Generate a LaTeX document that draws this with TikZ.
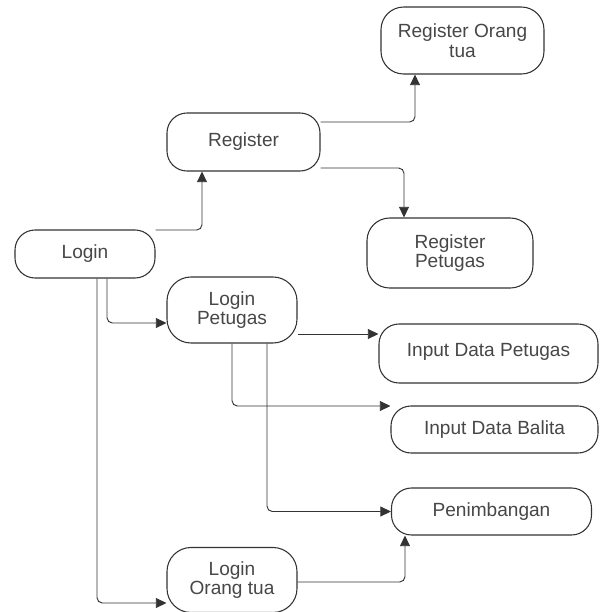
\documentclass[tikz,border=0pt]{standalone}
\usepackage{fontspec}
\setmainfont{Liberation Sans}
\usetikzlibrary{calc,arrows.meta}
\definecolor{edge}{HTML}{333333}
\definecolor{ink}{HTML}{474747}
\begin{document}
\begin{tikzpicture}[x=0.75pt,y=-0.75pt,
  box/.style={draw=edge,line width=0.8pt,rounded corners=15pt,fill=white,
    text=ink,align=center,inner sep=0pt,
    font=\fontsize{14.3}{14.6}\selectfont},
  conn/.style={draw=edge,line width=0.7pt,rounded corners=4pt,
    -{Triangle[length=8pt,width=7.5pt]}}]
\useasboundingbox (0,0) rectangle (601,612);
% nodes
\node[box,rounded corners=17pt,minimum width=163*0.75pt,minimum height=67*0.75pt] (rot) at (462.5,40.5) {Register Orang\\tua};
\node[box,minimum width=153*0.75pt,minimum height=58*0.75pt] (reg) at (243.5,142) {Register};
\node[box,minimum width=140*0.75pt,minimum height=48*0.75pt] (login) at (85,254) {Login};
\node[box,rounded corners=17pt,minimum width=166*0.75pt,minimum height=70*0.75pt] (rpet) at (450,253) {Register\\Petugas};
\node[box,rounded corners=18pt,minimum width=130*0.75pt,minimum height=66*0.75pt] (lpet) at (232,310) {Login\\Petugas};
\node[box,minimum width=219*0.75pt,minimum height=59*0.75pt] (idp) at (488.5,353.5) {\raisebox{5pt}{Input Data Petugas}};
\node[box,minimum width=207*0.75pt,minimum height=47*0.75pt] (idb) at (494.5,429.5) {Input Data Balita};
\node[box,minimum width=200*0.75pt,minimum height=47*0.75pt] (pen) at (491.5,511.5) {Penimbangan};
\node[box,rounded corners=18pt,minimum width=130*0.75pt,minimum height=65*0.75pt] (lot) at (232,580) {Login\\Orang tua};
% connectors
\draw[conn] ($(login.east)+(0,-24)$) -| ($(reg.south)+(-41.5,0)$);
\draw[conn] ($(reg.east)+(0,-20)$) -| ($(rot.south)+(-47.5,0)$);
\draw[conn] ($(reg.east)+(0,26)$) -| ($(rpet.north)+(-46,0)$);
\draw[conn] ($(login.south)+(22,0)$) |- ($(lpet.west)+(0,13)$);
\draw[conn] ($(login.south)+(12,0)$) |- ($(lot.west)+(0,23)$);
\draw[conn] ($(lpet.east)+(0,24)$) coordinate (s1) -- (s1 -| idp.west);
\draw[conn] (lpet.south) |- ($(idb.west)+(0,-23.5)$);
\draw[conn] ($(lpet.south)+(35,0)$) |- (pen.west);
\draw[conn] ($(lot.east)+(0,2)$) -| ($(pen.south)+(-86.5,0)$);
\end{tikzpicture}
\end{document}
